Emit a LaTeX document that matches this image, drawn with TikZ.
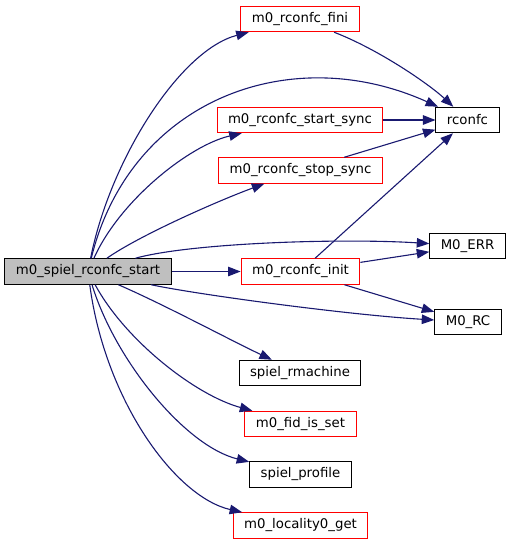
\documentclass[tikz,border=0pt]{standalone}
\usepackage{fontspec}
\setmainfont{DejaVu Sans}
\usetikzlibrary{arrows.meta}
\definecolor{edgeblue}{HTML}{191970}
\definecolor{boxred}{HTML}{FF0000}
\definecolor{rootgray}{HTML}{BFBFBF}

\begin{document}
\begin{tikzpicture}[x=1pt, y=-1pt,
    fn/.style={draw=black, line width=1pt, fill=white, minimum height=25.5pt, inner xsep=11pt, inner ysep=0pt, font=\fontsize{13.3}{15}\selectfont},
    fnred/.style={fn, draw=boxred},
    root/.style={fn, fill=rootgray},
    arr/.style={-{Triangle[length=12.5pt, width=9.5pt]}, draw=edgeblue, line width=1.1pt}
]
\useasboundingbox (0,0) rectangle (511,544);

\node[root] (start) at (88,271.5) {m0\_spiel\_rconfc\_start};
\node[fnred] (fini) at (300,19) {m0\_rconfc\_fini};
\node[fn] (rconfc) at (467.5,120) {rconfc};
\node[fnred] (ssync) at (300,120) {m0\_rconfc\_start\_sync};
\node[fnred] (psync) at (300.5,170.5) {m0\_rconfc\_stop\_sync};
\node[fn] (err) at (467.5,246) {M0\_ERR};
\node[fnred] (init) at (300.5,271.5) {m0\_rconfc\_init};
\node[fn] (rc) at (468,322) {M0\_RC};
\node[fn] (rmach) at (300,373) {spiel\_rmachine};
\node[fnred] (fid) at (300.5,424) {m0\_fid\_is\_set};
\node[fn] (prof) at (300.5,474.5) {spiel\_profile};
\node[fnred] (loc) at (300.5,525.5) {m0\_locality0\_get};

\draw[arr] (start) .. controls (110,160) and (180,50) .. (fini);
\draw[arr] (start) .. controls (130,100) and (290,40) .. (rconfc);
\draw[arr] (start) .. controls (120,200) and (190,145) .. (ssync);
\draw[arr] (start) .. controls (140,235) and (220,200) .. (psync);
\draw[arr] (start) .. controls (190,243) and (340,238) .. (err);
\draw[arr] (start) -- (init);
\draw[arr] (start) .. controls (200,295) and (350,315) .. (rc);
\draw[arr] (start) .. controls (165,305) and (230,340) .. (rmach);
\draw[arr] (start) .. controls (125,340) and (195,395) .. (fid);
\draw[arr] (start) .. controls (115,360) and (185,446) .. (prof);
\draw[arr] (start) .. controls (105,400) and (175,497) .. (loc);

\draw[arr] (fini) .. controls (380,50) and (430,85) .. (rconfc);
\draw[arr] (ssync) -- (rconfc);
\draw[arr] (psync) -- (rconfc);
\draw[arr] (init) -- (rconfc);
\draw[arr] (init) -- (err);
\draw[arr] (init) -- (rc);
\end{tikzpicture}
\end{document}
